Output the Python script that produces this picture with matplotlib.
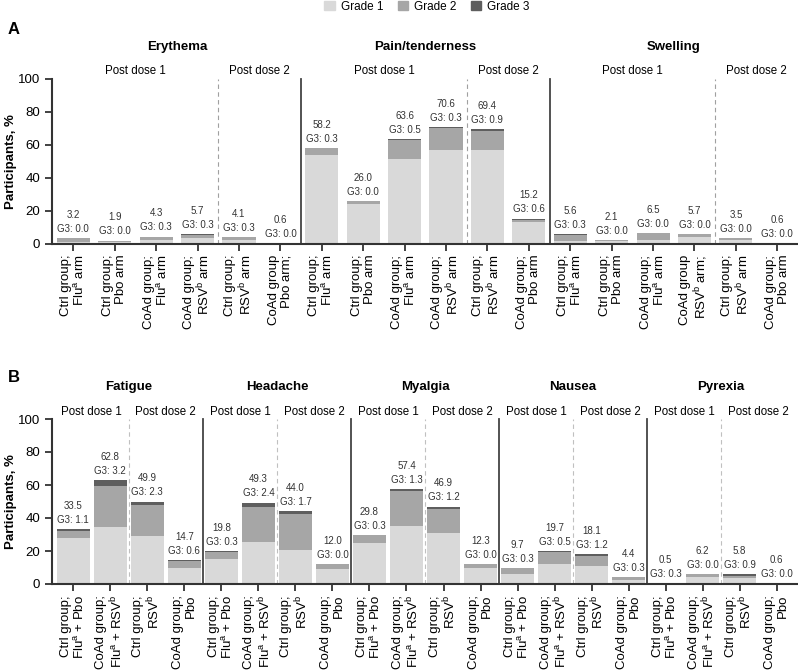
import matplotlib.pyplot as plt
import matplotlib.patches as mpatches
import numpy as np

plt.rcParams['font.family'] = ['Liberation Sans', 'DejaVu Sans']
plt.rcParams['mathtext.fontset'] = 'custom'
plt.rcParams['mathtext.rm'] = 'Liberation Sans'
plt.rcParams['mathtext.it'] = 'Liberation Sans'

c1, c2, c3 = '#d9d9d9', '#a6a6a6', '#5e5e5e'

# ---- panel A data (local reactions) ----
a_cats = ['Erythema', 'Pain/tenderness', 'Swelling']
a_labels = [
    'Ctrl group;\nFlu$^{a}$ arm', 'Ctrl group;\nPbo arm', 'CoAd group;\nFlu$^{a}$ arm',
    'CoAd group;\nRSV$^{b}$ arm', 'Ctrl group;\nRSV$^{b}$ arm', 'CoAd group\nPbo arm;',
    'Ctrl group;\nFlu$^{a}$ arm', 'Ctrl group;\nPbo arm', 'CoAd group;\nFlu$^{a}$ arm',
    'CoAd group;\nRSV$^{b}$ arm', 'Ctrl group;\nRSV$^{b}$ arm', 'CoAd group;\nPbo arm',
    'Ctrl group;\nFlu$^{a}$ arm', 'Ctrl group;\nPbo arm', 'CoAd group;\nFlu$^{a}$ arm',
    'CoAd group\nRSV$^{b}$ arm;', 'Ctrl group;\nRSV$^{b}$ arm', 'CoAd group;\nPbo arm',
]
a_total = [3.2, 1.9, 4.3, 5.7, 4.1, 0.6,
           58.2, 26.0, 63.6, 70.6, 69.4, 15.2,
           5.6, 2.1, 6.5, 5.7, 3.5, 0.6]
a_g1 = [1.2, 1.0, 2.5, 3.5, 2.2, 0.6,
        53.5, 23.8, 51.5, 57.0, 57.0, 13.3,
        1.5, 1.5, 2.0, 4.0, 2.5, 0.6]
a_g3 = [0.0, 0.0, 0.3, 0.3, 0.3, 0.0,
        0.3, 0.0, 0.5, 0.3, 0.9, 0.6,
        0.3, 0.0, 0.0, 0.0, 0.0, 0.0]

# ---- panel B data (systemic events) ----
b_cats = ['Fatigue', 'Headache', 'Myalgia', 'Nausea', 'Pyrexia']
b_labels = ['Ctrl group;\nFlu$^{a}$ + Pbo', 'CoAd group;\nFlu$^{a}$ + RSV$^{b}$',
            'Ctrl group;\nRSV$^{b}$', 'CoAd group;\nPbo'] * 5
b_total = [33.5, 62.8, 49.9, 14.7,
           19.8, 49.3, 44.0, 12.0,
           29.8, 57.4, 46.9, 12.3,
           9.7, 19.7, 18.1, 4.4,
           0.5, 6.2, 5.8, 0.6]
b_g1 = [27.7, 34.7, 29.1, 9.9,
        15.0, 25.6, 20.6, 9.1,
        25.0, 35.2, 30.7, 9.9,
        6.1, 11.9, 11.1, 2.2,
        0.2, 4.0, 3.5, 0.6]
b_g3 = [1.1, 3.2, 2.3, 0.6,
        0.3, 2.4, 1.7, 0.0,
        0.3, 1.3, 1.2, 0.0,
        0.3, 0.5, 1.2, 0.3,
        0.3, 0.0, 0.9, 0.0]

fig = plt.figure(figsize=(7.98, 6.72), dpi=100)


def panel(rect, labels, total, g1, g3, cats, dose_sizes, width, xlim, dash_col):
    ax = fig.add_axes(rect)
    total = np.array(total)
    g1 = np.array(g1)
    g3 = np.array(g3)
    g2 = np.clip(total - g1 - g3, 0, None)
    x = np.arange(len(total))
    ax.bar(x, g1, width, color=c1, linewidth=0)
    ax.bar(x, g2, width, bottom=g1, color=c2, linewidth=0)
    ax.bar(x, g3, width, bottom=g1 + g2, color=c3, linewidth=0)
    for xi, t, g in zip(x, total, g3):
        ax.annotate(f'{t:.1f}\nG3: {g:.1f}', (xi, t), xytext=(0, 3),
                    textcoords='offset points', ha='center', va='bottom',
                    fontsize=7, color='#333333', linespacing=1.5)
    ax.set_xlim(*xlim)
    ax.set_ylim(0, 100)
    ax.set_yticks([0, 20, 40, 60, 80, 100])
    ax.set_xticks(x)
    ax.set_xticklabels(labels, rotation=90, ha='center', va='top',
                       multialignment='right', fontsize=9.5, linespacing=1.1)
    ax.tick_params(axis='y', labelsize=9.5, length=5, width=1.3, color='#333333')
    ax.tick_params(axis='x', length=5, width=1.3, color='#333333', pad=3)
    for s in ['top', 'right']:
        ax.spines[s].set_visible(False)
    for s in ['left', 'bottom']:
        ax.spines[s].set_linewidth(1.5)
        ax.spines[s].set_color('#333333')
    ax.set_ylabel('Participants, %', fontsize=9.5, fontweight='bold')
    ax.yaxis.set_label_coords(-0.047, 0.5)

    # category and dose separators + headers
    start = 0
    for ci, cat in enumerate(cats):
        n1, n2 = dose_sizes[ci]
        n = n1 + n2
        ax.text(start + (n - 1) / 2, 1.195, cat, transform=ax.get_xaxis_transform(),
                ha='center', va='center', fontsize=9.5, fontweight='bold')
        ax.text(start + (n1 - 1) / 2, 1.045, 'Post dose 1', transform=ax.get_xaxis_transform(),
                ha='center', va='center', fontsize=8.3)
        ax.text(start + n1 + (n2 - 1) / 2, 1.045, 'Post dose 2', transform=ax.get_xaxis_transform(),
                ha='center', va='center', fontsize=8.3)
        ax.plot([start + n1 - 0.5] * 2, [0, 100], ls=(0, (4, 3)), color=dash_col,
                lw=0.8, clip_on=False)
        if ci < len(cats) - 1:
            ax.plot([start + n - 0.5] * 2, [0, 100], color='#444444', lw=1.3, clip_on=False)
        start += n
    return ax


axA = panel([52 / 798, 1 - 243.7 / 672, 746 / 798, 165 / 672], a_labels, a_total, a_g1, a_g3,
            a_cats, [(4, 2), (4, 2), (4, 2)], 0.8, (-0.515, 17.5), '#a0a0a0')
axB = panel([52 / 798, 1 - 584 / 672, 746 / 798, 165 / 672], b_labels, b_total, b_g1, b_g3,
            b_cats, [(2, 2)] * 5, 0.88, (-0.575, 19.575), '#c0c0c0')

fig.text(8 / 798, 1 - 30 / 672, 'A', fontsize=12, fontweight='bold', va='center')
fig.text(8 / 798, 1 - 377 / 672, 'B', fontsize=12, fontweight='bold', va='center')

handles = [mpatches.Patch(color=c, label=l) for c, l in
           zip([c1, c2, c3], ['Grade 1', 'Grade 2', 'Grade 3'])]
fig.legend(handles=handles, loc='upper center', bbox_to_anchor=(0.535, 1.015), ncol=3,
           frameon=False, fontsize=8.5, handlelength=0.9, handleheight=0.9,
           handletextpad=0.5, columnspacing=1.2)

fig.savefig('out.png', dpi=100)
